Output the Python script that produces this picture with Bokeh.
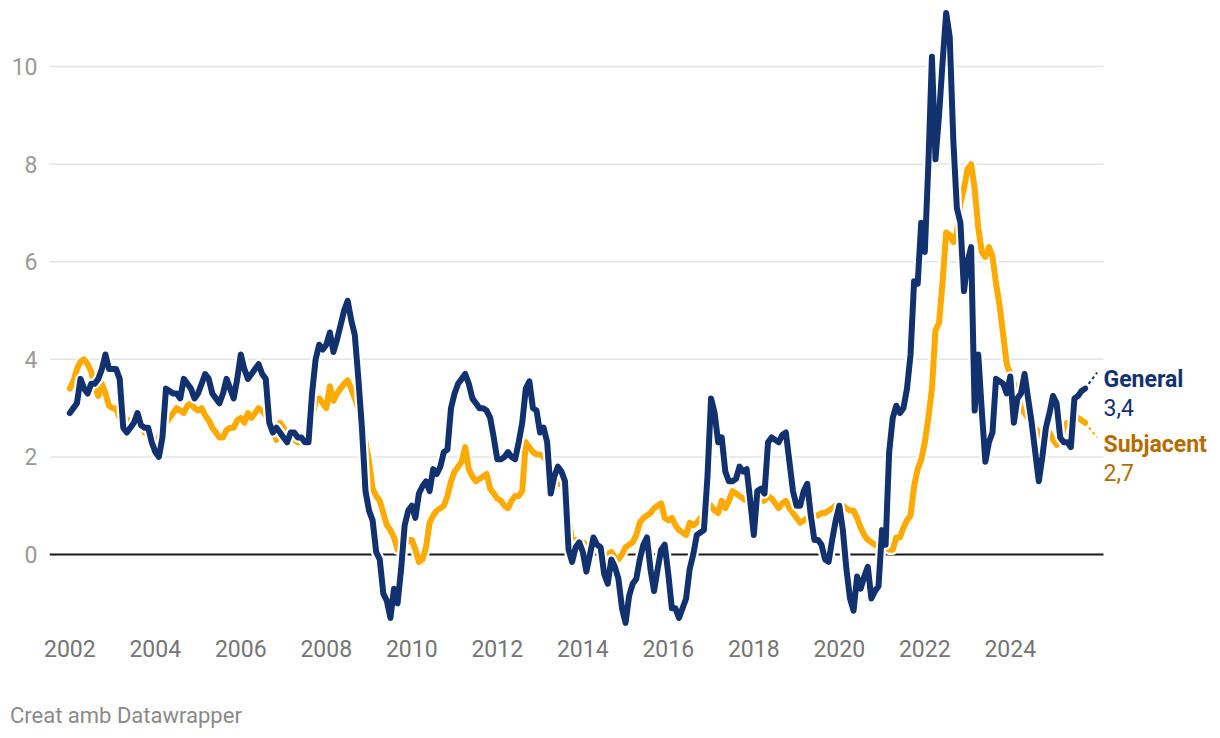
from bokeh.plotting import figure
from bokeh.models import FixedTicker, Label, Range1d, Div
from bokeh.layouts import column
from bokeh.embed import file_html
from bokeh.resources import INLINE

# Monthly year-on-year rates, Jan 2002 - Oct 2025
start_year = 2002
general = [
    2.9, 3.0, 3.1, 3.6, 3.4, 3.3, 3.5, 3.5, 3.6, 3.8, 4.1, 3.8,        # 2002
    3.8, 3.8, 3.6, 2.6, 2.5, 2.6, 2.7, 2.9, 2.65, 2.6, 2.6, 2.3,       # 2003
    2.1, 2.0, 2.4, 3.4, 3.35, 3.3, 3.3, 3.2, 3.6, 3.5, 3.4, 3.2,       # 2004
    3.3, 3.5, 3.7, 3.6, 3.3, 3.2, 3.1, 3.3, 3.6, 3.4, 3.2, 3.6,        # 2005
    4.1, 3.8, 3.6, 3.7, 3.8, 3.9, 3.7, 3.6, 2.7, 2.5, 2.6, 2.5,        # 2006
    2.4, 2.3, 2.5, 2.5, 2.4, 2.4, 2.3, 2.3, 3.3, 4.0, 4.3, 4.2,        # 2007
    4.3, 4.55, 4.15, 4.4, 4.7, 5.0, 5.2, 4.8, 4.5, 3.6, 2.6, 1.3,      # 2008
    0.9, 0.7, 0.05, -0.1, -0.8, -0.95, -1.3, -0.7, -1.0, -0.3, 0.6, 0.9,  # 2009
    1.0, 0.75, 1.25, 1.4, 1.5, 1.3, 1.75, 1.65, 1.8, 2.1, 2.15, 3.0,   # 2010
    3.3, 3.5, 3.6, 3.7, 3.5, 3.2, 3.1, 3.0, 3.0, 2.95, 2.8, 2.4,       # 2011
    1.95, 1.95, 2.0, 2.1, 2.0, 1.95, 2.3, 2.7, 3.4, 3.55, 3.0, 2.95,   # 2012
    2.5, 2.6, 2.3, 1.25, 1.6, 1.8, 1.7, 1.5, 0.1, -0.15, 0.15, 0.25,   # 2013
    0.05, -0.35, 0.0, 0.35, 0.2, 0.15, -0.4, -0.6, -0.1, -0.25, -0.5, -1.1,  # 2014
    -1.4, -0.85, -0.6, -0.5, -0.1, 0.2, 0.35, -0.3, -0.75, -0.3, 0.1, 0.2,  # 2015
    -0.4, -1.1, -1.1, -1.3, -1.1, -0.9, -0.3, 0.0, 0.4, 0.45, 0.5, 1.6,  # 2016
    3.2, 2.9, 2.3, 2.4, 1.7, 1.5, 1.5, 1.55, 1.8, 1.7, 1.75, 1.1,      # 2017
    0.4, 1.3, 1.35, 1.25, 2.3, 2.4, 2.35, 2.3, 2.45, 2.5, 1.9, 1.3,    # 2018
    1.0, 1.0, 1.3, 1.45, 0.8, 0.3, 0.3, 0.2, -0.1, -0.15, 0.3, 0.7,    # 2019
    1.0, 0.5, -0.3, -0.9, -1.15, -0.45, -0.7, -0.45, -0.25, -0.9, -0.75, -0.65,  # 2020
    0.5, 0.2, 2.1, 2.8, 3.05, 2.9, 3.0, 3.4, 4.1, 5.6, 5.55, 6.8,      # 2021
    6.2, 8.0, 10.2, 8.1, 9.0, 10.1, 11.1, 10.6, 8.5, 7.1, 6.8, 5.4,    # 2022
    6.0, 6.3, 2.95, 4.1, 2.95, 1.9, 2.3, 2.5, 3.6, 3.55, 3.5, 3.3,     # 2023
    3.65, 2.7, 3.2, 3.3, 3.7, 3.2, 2.7, 2.1, 1.5, 2.0, 2.6, 2.9,       # 2024
    3.25, 3.1, 2.4, 2.3, 2.3, 2.2, 3.2, 3.25, 3.35, 3.4,               # 2025
]
subjacent = [
    3.4, 3.55, 3.8, 3.95, 4.0, 3.9, 3.75, 3.45, 3.25, 3.5, 3.3, 3.05,  # 2002
    3.0, 3.0, 2.8, 2.75, 2.75, 2.75, 2.75, 2.7, 2.7, 2.5, 2.45, 2.35,  # 2003
    2.3, 2.4, 2.55, 2.7, 2.8, 2.9, 3.0, 2.95, 2.9, 3.05, 3.1, 3.0,     # 2004
    2.95, 3.0, 2.85, 2.75, 2.6, 2.5, 2.4, 2.4, 2.55, 2.6, 2.6, 2.75,   # 2005
    2.8, 2.7, 2.9, 2.8, 2.9, 3.0, 2.95, 2.85, 2.7, 2.55, 2.35, 2.7,    # 2006
    2.6, 2.5, 2.4, 2.35, 2.3, 2.3, 2.35, 2.5, 2.8, 3.15, 3.2, 3.1,     # 2007
    3.0, 3.45, 3.15, 3.3, 3.4, 3.5, 3.57, 3.4, 3.2, 3.0, 2.75, 2.3,    # 2008
    1.9, 1.35, 1.2, 1.1, 0.85, 0.6, 0.5, 0.35, 0.1, 0.1, 0.2, 0.3,     # 2009
    0.3, 0.1, -0.15, -0.1, 0.15, 0.65, 0.8, 0.9, 0.95, 1.0, 1.2, 1.5,  # 2010
    1.7, 1.8, 1.9, 2.2, 1.75, 1.6, 1.5, 1.55, 1.6, 1.65, 1.35, 1.25,   # 2011
    1.15, 1.1, 1.0, 0.95, 1.1, 1.2, 1.2, 1.3, 2.3, 2.2, 2.1, 2.05,     # 2012
    2.05, 2.0, 1.9, 1.5, 1.5, 1.45, 1.45, 1.3, 0.7, 0.3, 0.3, 0.25,    # 2013
    0.25, 0.2, 0.1, 0.2, 0.15, 0.1, 0.0, 0.0, 0.05, -0.05, -0.1, 0.0,  # 2014
    0.15, 0.2, 0.25, 0.4, 0.65, 0.75, 0.8, 0.85, 0.95, 1.0, 1.05, 0.75,  # 2015
    0.7, 0.75, 0.6, 0.5, 0.45, 0.4, 0.65, 0.6, 0.65, 0.75, 0.8, 0.95,  # 2016
    1.0, 0.9, 0.85, 1.1, 0.95, 1.1, 1.3, 1.25, 1.2, 1.15, 1.1, 1.05,   # 2017
    1.0, 1.05, 1.1, 1.1, 1.2, 1.15, 1.05, 0.95, 1.05, 1.1, 0.95, 0.85,  # 2018
    0.75, 0.65, 0.7, 0.75, 0.8, 0.8, 0.8, 0.85, 0.85, 0.9, 0.95, 1.0,  # 2019
    1.0, 1.0, 0.95, 0.9, 0.9, 0.75, 0.55, 0.4, 0.3, 0.25, 0.2, 0.15,   # 2020
    0.2, 0.15, 0.1, 0.1, 0.35, 0.35, 0.55, 0.7, 0.8, 1.4, 1.75, 1.95,  # 2021
    2.3, 2.8, 3.4, 4.6, 4.75, 5.6, 6.6, 6.55, 6.4, 6.6, 7.2, 7.5,      # 2022
    7.9, 8.0, 7.5, 6.7, 6.2, 6.1, 6.3, 6.1, 5.55, 5.1, 4.5, 3.9,       # 2023
    3.7, 3.5, 3.25, 3.0, 2.9, 2.8, 2.7, 2.6, 2.5, 2.3, 2.4, 2.5,       # 2024
    2.35, 2.25, 2.3, 2.6, 2.7, 2.7, 2.75, 2.8, 2.75, 2.7,              # 2025
]
series_names = ["General", "Subjacent"]
x_tick_years = list(range(2002, 2025, 2))
y_tick_values = [0, 2, 4, 6, 8, 10]
footer_text = "Creat amb Datawrapper"

assert len(general) == len(subjacent)
months = [start_year + i / 12 for i in range(len(general))]

NAVY = "#12316f"
ORANGE = "#ffaa00"
ORANGE_TXT = "#b36d00"
FONT = "Roboto"

# x extent: data area ends at x_data_end, the frame continues for end labels
x0, x_data_end, x1 = 2001.525, 2026.18, 2028.73
y0, y1 = -1.516, 11.19

p = figure(width=1212, height=698, output_backend="svg", toolbar_location=None,
           x_range=Range1d(x0, x1), y_range=Range1d(y0, y1),
           min_border_left=49, min_border_right=0, min_border_top=8,
           min_border_bottom=70, outline_line_color=None,
           background_fill_color="white", border_fill_color="white")

for ax in (p.xaxis, p.yaxis):
    ax.axis_line_color = None
    ax.major_tick_line_color = None
    ax.minor_tick_line_color = None
    ax.major_tick_out = 0
    ax.major_tick_in = 0
    ax.minor_tick_out = 0
    ax.minor_tick_in = 0
    ax.major_label_text_font = FONT
    ax.major_label_text_font_size = "23px"
p.xaxis.ticker = FixedTicker(ticks=x_tick_years)
p.xaxis.major_label_text_color = "#757575"
p.xaxis.major_label_standoff = 11
p.yaxis.ticker = FixedTicker(ticks=y_tick_values)
p.yaxis.major_label_text_color = "#9a9a9a"
p.yaxis.major_label_standoff = 12
p.xgrid.grid_line_color = None
p.ygrid.grid_line_color = None

# horizontal gridlines limited to the data area, zero line in black
grid_vals = [v for v in y_tick_values if v != 0]
p.segment(x0=[x0] * len(grid_vals), y0=grid_vals,
          x1=[x_data_end] * len(grid_vals), y1=grid_vals,
          line_color="#e3e3e3", line_width=1.5)
p.segment(x0=[x0], y0=[0], x1=[x_data_end], y1=[0],
          line_color="#1a1a1a", line_width=2)

# lines with white halo
for vals, col in ((subjacent, ORANGE), (general, NAVY)):
    p.line(months, vals, line_color="white", line_width=10.5,
           line_join="round", line_cap="round")
    p.line(months, vals, line_color=col, line_width=6,
           line_join="round", line_cap="round")

# leader lines to end labels
t_last = months[-1]
g_last, s_last = general[-1], subjacent[-1]
p.line([t_last, t_last + 0.28], [g_last, g_last + 0.33], line_color=NAVY,
       line_width=2, line_dash="3 3")
p.line([t_last, t_last + 0.28], [s_last, s_last - 0.3], line_color=ORANGE,
       line_width=2, line_dash="3 3")


def fmt(v):
    return f"{v:.1f}".replace(".", ",")


end_labels = [
    (series_names[0], g_last + 0.18, NAVY, "bold"),
    (fmt(g_last), g_last - 0.38, NAVY, "normal"),
    (series_names[1], s_last - 0.45, ORANGE_TXT, "bold"),
    (fmt(s_last), s_last - 1.01, ORANGE_TXT, "normal"),
]
for txt, yy, col, style in end_labels:
    p.add_layout(Label(x=x_data_end, y=yy, text=txt, text_font=FONT,
                       text_font_size="23px", text_font_style=style,
                       text_color=col, text_baseline="alphabetic",
                       text_align="left"))

footer = Div(text=footer_text, width=400, height=34, margin=(5, 0, 0, 10),
             styles={"font-family": FONT, "font-size": "22px",
                     "color": "#8a8a8a", "line-height": "26px"})

layout = column(p, footer, spacing=0)
open("out.html", "w").write(file_html(layout, INLINE))
